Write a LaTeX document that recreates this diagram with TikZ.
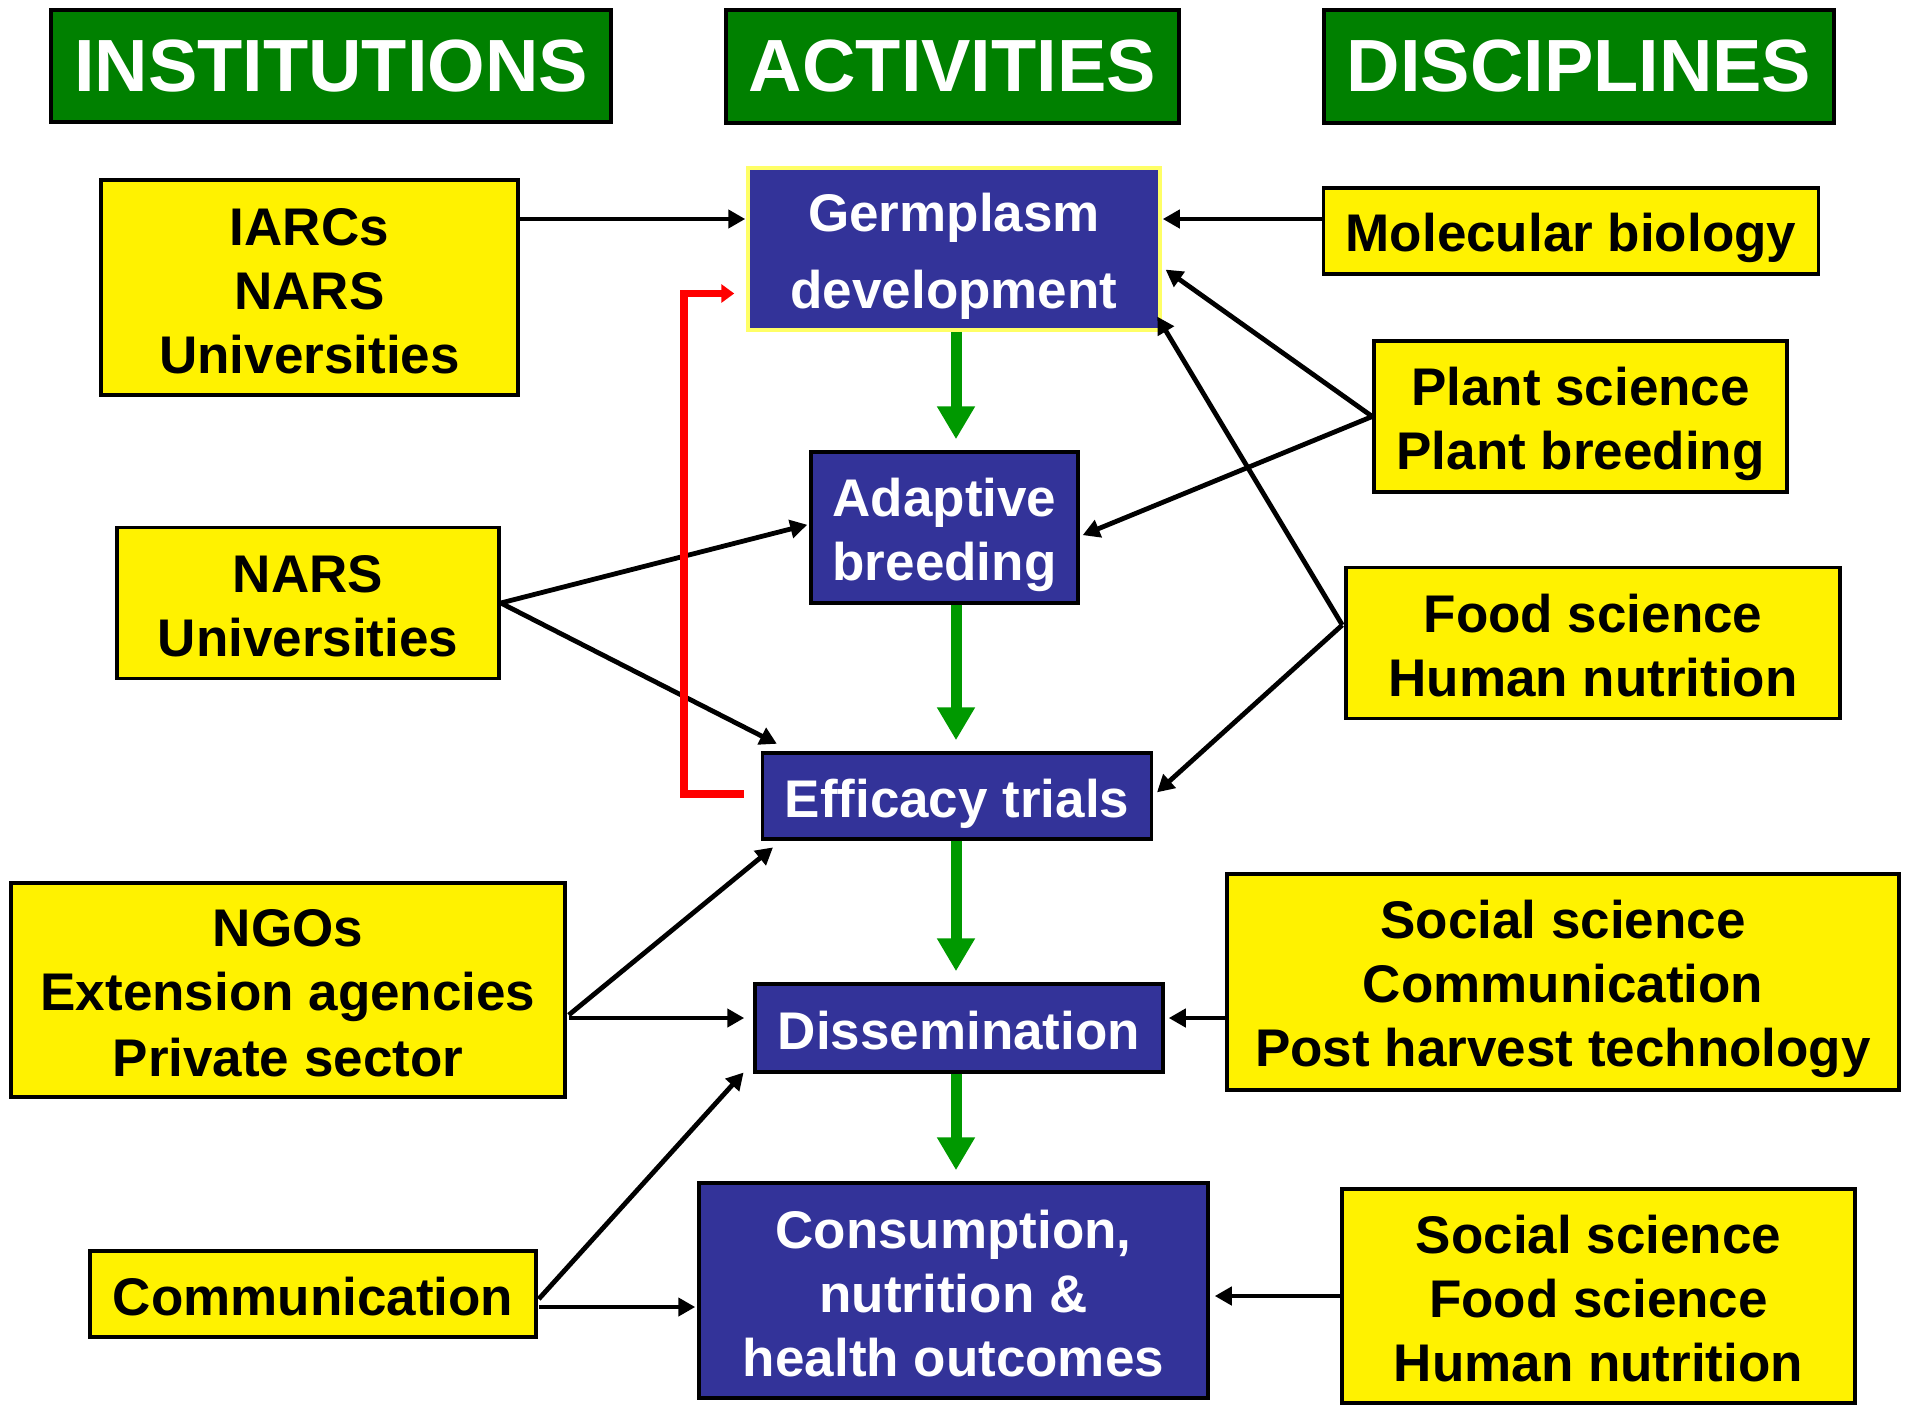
\documentclass[tikz,border=0pt]{standalone}
\usepackage{fontspec}
\setmainfont{Liberation Sans}
\usepackage{xcolor}
\usepackage{tikz}
\usetikzlibrary{arrows.meta}
\usetikzlibrary{positioning, calc}

\definecolor{hdrgreen}{RGB}{0,128,0}
\definecolor{actblue}{RGB}{51,51,153}
\definecolor{flowgreen}{RGB}{0,153,0}
\definecolor{rimyellow}{RGB}{255,255,102}
\newcommand{\lnstrut}{\rule[-10pt]{0pt}{63pt}}

\begin{document}
\begin{tikzpicture}[x=1pt, y=-1pt,
  hdr/.style={draw=black, line width=4pt, fill=hdrgreen, text=white, inner sep=0pt, font=\fontsize{74}{80}\selectfont\bfseries},
  side/.style={draw=black, line width=3.5pt, fill=yellow, align=center, inner sep=0pt, execute at begin node=\lnstrut, font=\fontsize{53}{64}\selectfont\bfseries},
  act/.style={draw=black, line width=3.5pt, fill=actblue, text=white, align=center, inner sep=0pt, execute at begin node=\lnstrut, font=\fontsize{53}{64}\selectfont\bfseries},
  conn/.style={line width=4.8pt, shorten >=1pt, -{Triangle[length=17pt,width=18pt]}},
  flow/.style={draw=flowgreen, line width=11pt, shorten >=11pt, -{Triangle[length=33pt,width=36pt]}},
  loopback/.style={draw=red, line width=7.5pt, -{Triangle[length=13pt,width=18pt]}}
]
\useasboundingbox (0,0) rectangle (1910,1406);

   \node (insthdr) [hdr, minimum width=560pt, minimum height=112pt] at (331,66) {INSTITUTIONS};
   \node (acthdr)  [hdr, minimum width=453pt, minimum height=113pt] at (952.5,66) {ACTIVITIES};
   \node (dischdr) [hdr, minimum width=510pt, minimum height=113pt] at (1579,66) {DISCIPLINES};

   \node (iarcs) [side, minimum width=417pt, minimum height=215pt] at (309.5,287.5) {IARCs\lnstrut\\NARS\\Universities\lnstrut};
   \node (nars)  [side, minimum width=382pt, minimum height=151pt] at (308,603) {NARS\lnstrut\\Universities\lnstrut};
   \node (ngos)  [side, minimum width=554pt, minimum height=214pt] at (288,990) {NGOs\lnstrut\\Extension agencies\\Private sector\lnstrut};
   \node (comm)  [side, minimum width=446pt, minimum height=86pt] at (313,1294) {Communication};

   \node (germ)   [act, draw=rimyellow, minimum width=412pt, minimum height=162pt, font=\fontsize{53}{77}\selectfont\bfseries] at (954,249) {Germplasm\lnstrut\\development\lnstrut};
   \node (adapt)  [act, minimum width=267pt, minimum height=151pt] at (944.5,527.5) {Adaptive\lnstrut\\breeding\lnstrut};
   \node (effic)  [act, minimum width=389pt, minimum height=86pt] at (957,796) {Efficacy trials};
   \node (dissem) [act, minimum width=408pt, minimum height=88pt] at (959,1028) {Dissemination};
   \node (consum) [act, minimum width=509pt, minimum height=215pt] at (953.5,1290.5) {Consumption,\lnstrut\\nutrition \&\\health outcomes\lnstrut};

   \node (molbio) [side, minimum width=495pt, minimum height=86pt] at (1571,231) {Molecular biology};
   \node (plant)  [side, minimum width=413pt, minimum height=151pt] at (1580.5,416.5) {Plant science\lnstrut\\Plant breeding\lnstrut};
   \node (food)   [side, minimum width=494pt, minimum height=151pt] at (1593,643) {Food science\lnstrut\\Human nutrition\lnstrut};
   \node (socomm) [side, minimum width=672pt, minimum height=216pt] at (1563,982) {Social science\lnstrut\\Communication\\Post harvest technology\lnstrut};
   \node (sofood) [side, minimum width=513pt, minimum height=214pt] at (1598.5,1296) {Social science\lnstrut\\Food science\\Human nutrition\lnstrut};

   % institutions
   \draw[conn] (iarcs.east |- 0,219) -- (germ.west |- 0,219);
   \draw[conn] (nars.east) -- ($(adapt.west)+(-1,-3)$);
   \draw[conn] (nars.east) -- ($(effic.north west)+(17,-7)$);
   \draw[conn] ($(ngos.east)+(2,25)$) -- ($(effic.south west)+(13,6)$);
   \draw[conn] ($(ngos.east)+(2,28)$) -- ($(dissem.west)+(-8,-10)$);
   \draw[conn] ($(comm.east)+(1,5)$) -- ($(dissem.south west)+(-9,-2)$);
   \draw[conn] ($(comm.east)+(1,13)$) -- ($(consum.west)+(-1,16.5)$);

   % disciplines
   \draw[conn] (molbio.west |- 0,219) -- (germ.east |- 0,219);
   \draw[conn] (plant.west) -- ($(germ.east)+(3,20)$);
   \draw[conn] (plant.west) -- ($(adapt.east)+(2,8)$);
   \draw[conn] ($(food.west)+(-2,-18)$) -- ($(germ.south east)+(-5,-16)$);
   \draw[conn] ($(food.west)+(-2,-18)$) -- ($(effic.east)+(3,-3)$);
   \draw[conn] ($(socomm.west)+(0,36)$) -- ($(dissem.east)+(3,-10)$);
   \draw[conn] (sofood.west) -- ($(consum.east)+(4,5.5)$);

   % activities
   \draw[flow] (germ.south -| 956,0) -- (adapt.north -| 956,0);
   \draw[flow] (adapt.south -| 956,0) -- (effic.north -| 956,0);
   \draw[flow] (effic.south -| 956,0) -- (dissem.north -| 956,0);
   \draw[flow] (dissem.south -| 956,0) -- (consum.north -| 956,0);
   \draw[loopback] ($(effic.west)+(-17,-2)$) -- ++(-60,0) |- ($(germ.west)+(-12,44.5)$);
\end{tikzpicture}
\end{document}
